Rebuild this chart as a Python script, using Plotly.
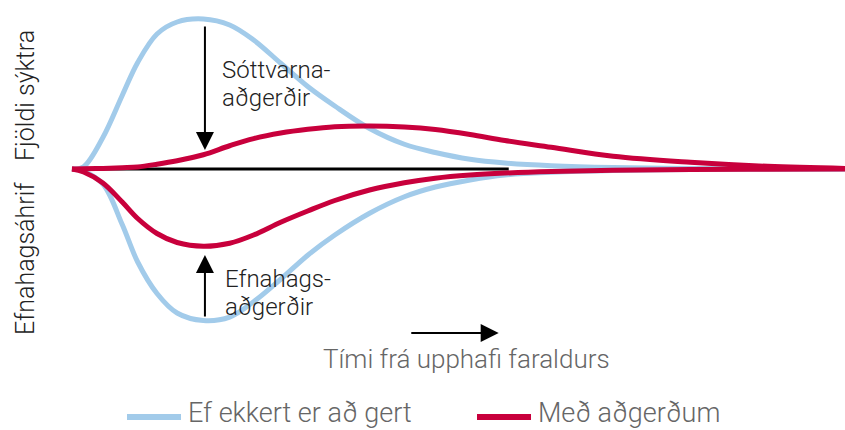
import plotly.graph_objects as go

# time axis (arbitrary units) and the four curves
t = [0, 1.5, 4, 6.5, 8.5, 11, 13.6, 17, 20.4, 23.5, 27, 30.5, 34, 38.5, 43, 47, 51.5, 56, 62, 70, 80, 90, 100]

infections_none = [0, 1.5, 21, 49, 71, 90, 98, 100, 96, 86, 70.5, 55, 42, 27, 16.5, 11, 6.5, 4, 2.2, 1, 0.4, 0.1, 0]
infections_measures = [0, 0.1, 0.4, 0.9, 1.4, 3.2, 5.5, 9.5, 15.5, 20.3, 24, 26.5, 28.2, 28.7, 28, 26.3, 23, 19, 14.5, 8.5, 4.5, 1.8, 0.4]
economy_none = [0, -1.5, -10, -37, -62, -83, -96, -101, -98.7, -88.5, -73.5, -57.5, -44, -29.5, -18.5, -12, -7.3, -4, -2.2, -1, -0.4, -0.1, 0]
economy_measures = [0, -2, -9.3, -22, -33, -43, -49, -51.5, -49.5, -44, -35.5, -28, -21, -14, -9.2, -6.1, -4, -2.7, -1.6, -0.8, -0.3, -0.1, 0]

baseline_t = [0, 56.5]
baseline_y = [0, 0]

BLUE = "#a2cbea"
RED = "#c8003c"
FONT = "Roboto"
W, H = 845, 430

fig = go.Figure()
fig.add_trace(go.Scatter(x=baseline_t, y=baseline_y, mode="lines",
                         line=dict(color="black", width=3), hoverinfo="skip"))
for y in [infections_none, economy_none]:
    fig.add_trace(go.Scatter(x=t, y=y, mode="lines", line=dict(color=BLUE, width=5, shape="spline"),
                             name="Ef ekkert er að gert"))
for y in [infections_measures, economy_measures]:
    fig.add_trace(go.Scatter(x=t, y=y, mode="lines", line=dict(color=RED, width=5, shape="spline"),
                             name="Með aðgerðum"))

# arrows (data coords): tail -> tip
arrows = [((17.2, 96), (17.2, 12.7)), ((17.2, -99.3), (17.2, -57.3)), ((43.7, -109.3), (55.2, -109.3))]
for (x0, y0), (x1, y1) in arrows:
    fig.add_annotation(x=x1, y=y1, ax=x0, ay=y0, xref="x", yref="y", axref="x", ayref="y",
                       text="", showarrow=True, arrowhead=2, arrowsize=1.8, arrowwidth=2, arrowcolor="black")


# text placed in pixel positions of the 845x430 picture
def label(px, py, text, size, color, xanchor="left", angle=0):
    fig.add_annotation(x=px / W, y=1 - py / H, xref="paper", yref="paper", text=text, showarrow=False,
                       xanchor=xanchor, yanchor="middle", textangle=angle,
                       font=dict(family=FONT, size=size, color=color, weight=300))


label(220, 70, "Sóttvarna-", 24, "#222")
label(220, 97.7, "aðgerðir", 24, "#222")
label(223, 279.4, "Efnahags-", 24, "#222")
label(223, 306.7, "aðgerðir", 24, "#222")
label(25, 96, "Fjöldi sýktra", 25, "#222", xanchor="center", angle=-90)
label(25, 259, "Efnahagsáhrif", 25, "#222", xanchor="center", angle=-90)
label(466, 359, "Tími frá upphafi faraldurs", 26, "#666", xanchor="center")

# hand-made legend
legend = [(127, 181, BLUE, "Ef ekkert er að gert"), (477, 531, RED, "Með aðgerðum")]
for x0, x1, col, name in legend:
    fig.add_shape(type="line", xref="paper", yref="paper", x0=x0 / W, x1=x1 / W,
                  y0=1 - 417 / H, y1=1 - 417 / H, line=dict(color=col, width=6))
    label(x1 + 5, 413, name, 27, "#666")

fig.update_layout(width=W, height=H, margin=dict(l=0, r=0, t=0, b=0),
                  plot_bgcolor="white", paper_bgcolor="white", showlegend=False)
fig.update_xaxes(range=[-9.31, 100], visible=False)
fig.update_yaxes(range=[-174, 112.67], visible=False)
fig.write_html("out.html", config={"displayModeBar": False})

# drop the browser's default body margin so the figure sits at (0, 0)
with open("out.html", encoding="utf-8") as f:
    page = f.read()
page = page.replace("<head>", "<head><style>body{margin:0}</style>", 1)
with open("out.html", "w", encoding="utf-8") as f:
    f.write(page)
